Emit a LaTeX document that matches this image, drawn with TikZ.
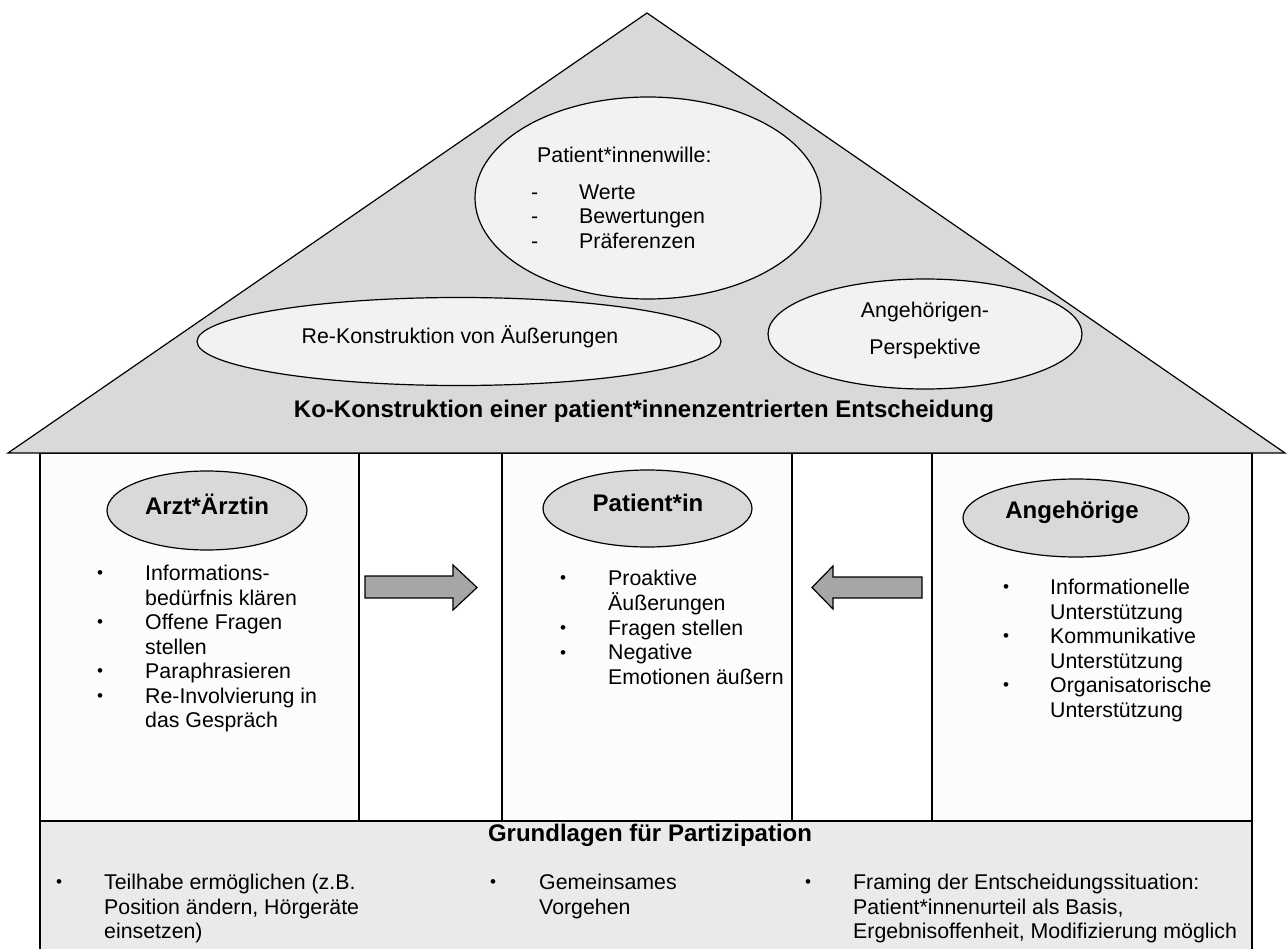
\documentclass[tikz,border=0pt]{standalone}
\usepackage{fontspec}
\setmainfont{Liberation Sans}
\usetikzlibrary{shapes.geometric}
\definecolor{roofgray}{HTML}{D9D9D9}
\definecolor{ovalfill}{HTML}{F2F2F2}
\definecolor{basegray}{HTML}{EAEAEA}
\definecolor{arrowgray}{HTML}{A6A6A6}
\definecolor{colfill}{HTML}{FCFCFC}
\newcommand{\txtsize}{\fontsize{21.33}{24.5}\selectfont}
\newcommand{\hdrsize}{\fontsize{24}{27.6}\selectfont\bfseries}
\newcommand{\blist}[2]{\begin{tabular}[t]{@{}p{#1}@{}l@{}}#2\end{tabular}}
\newcommand{\dotmark}{\raisebox{1.6pt}{\scalebox{0.8}{\textbullet}}}
\tikzset{
  wall/.style={draw=black, line width=1.2pt},
  oval/.style={ellipse, draw=black, line width=1.2pt, fill=ovalfill, inner sep=0pt},
  role/.style={ellipse, draw=black, line width=1.2pt, fill=roofgray, inner sep=0pt},
  bodytext/.style={font=\txtsize, inner sep=0pt, anchor=base},
  titletext/.style={font=\hdrsize, inner sep=0pt, anchor=base},
  listtext/.style={font=\txtsize, inner sep=0pt, anchor=base west},
  blockarrow/.style={draw=black, line width=1.2pt, fill=arrowgray, line join=miter},
}
\begin{document}
\begin{tikzpicture}[x=1pt,y=-1pt]
  \useasboundingbox (0,0) rectangle (1287,949);
  \draw[wall, fill=basegray] (40,949) -- (40,821) -- (1252,821) -- (1252,949);
  \foreach \xa/\xb/\c in {40/359/colfill, 359/502/white, 502/792/colfill, 792/932/white, 932/1252/colfill}
    \draw[wall, fill=\c] (\xa,453) rectangle (\xb,821);
  \draw[line width=2pt] (40,821) -- (1252,821);
  \draw[wall, fill=roofgray, line join=miter] (8,453) -- (647,13) -- (1285,453) -- cycle;

  \node[oval, minimum width=346pt, minimum height=202pt] (wille) at (648,198) {};
  \node[oval, minimum width=524pt, minimum height=88pt] (rekon) at (459,341.5) {};
  \node[oval, minimum width=314pt, minimum height=110pt] (perspektive) at (925,334) {};
  \node[bodytext, anchor=base west] (willehead) at (537,162.7) {Patient*innenwille:};
  \node[listtext] (willelist) at (531,199.5) {\blist{48pt}{- & Werte\\ - & Bewertungen\\ - & Präferenzen}};
  \node[bodytext] (rekontext) at (460,344) {Re-Konstruktion von Äußerungen};
  \node[bodytext] (persp1) at (925,317.5) {Angehörigen-};
  \node[bodytext] (persp2) at (925,354.5) {Perspektive};
  \node[titletext] (kokon) at (644,417) {Ko-Konstruktion einer patient*innenzentrierten Entscheidung};

  \node[role, minimum width=200pt, minimum height=79pt] (arzt) at (207,510.5) {};
  \node[role, minimum width=209pt, minimum height=77pt] (patient) at (647.5,508.5) {};
  \node[role, minimum width=226pt, minimum height=78pt] (angeh) at (1076,518) {};
  \node[titletext] (arzttext) at (207,514) {Arzt*Ärztin};
  \node[titletext] (patienttext) at (648,511.6) {Patient*in};
  \node[titletext] (angehtext) at (1072,518) {Angehörige};

  \node[listtext] (arztlist) at (97,580.5) {\blist{48pt}{\dotmark & Informations-\\ & bedürfnis klären\\ \dotmark & Offene Fragen\\ & stellen\\ \dotmark & Paraphrasieren\\ \dotmark & Re-Involvierung in\\ & das Gespräch}};
  \node[listtext] (patientlist) at (560,585.5) {\blist{48pt}{\dotmark & Proaktive\\ & Äußerungen\\ \dotmark & Fragen stellen\\ \dotmark & Negative\\ & Emotionen äußern}};
  \node[listtext] (angehlist) at (1003,594.5) {\blist{47pt}{\dotmark & Informationelle\\ & Unterstützung\\ \dotmark & Kommunikative\\ & Unterstützung\\ \dotmark & Organisatorische\\ & Unterstützung}};

  \draw[blockarrow] (365,576) -- (453,576) -- (453,565) -- (477,587.5) -- (453,610) -- (453,598) -- (365,598) -- cycle;
  \draw[blockarrow] (922,577) -- (833,577) -- (833,566) -- (812,587.5) -- (833,609) -- (833,598) -- (922,598) -- cycle;

  \node[titletext] (grundlagen) at (650,841) {Grundlagen für Partizipation};
  \node[listtext] (teilhabe) at (56,889.5) {\blist{48pt}{\dotmark & Teilhabe ermöglichen (z.B.\\ & Position ändern, Hörgeräte\\ & einsetzen)}};
  \node[listtext] (vorgehen) at (490,889.5) {\blist{49pt}{\dotmark & Gemeinsames\\ & Vorgehen}};
  \node[listtext] (framing) at (805,889.5) {\blist{48pt}{\dotmark & Framing der Entscheidungssituation:\\ & Patient*innenurteil als Basis,\\ & Ergebnisoffenheit, Modifizierung möglich}};
\end{tikzpicture}
\end{document}
